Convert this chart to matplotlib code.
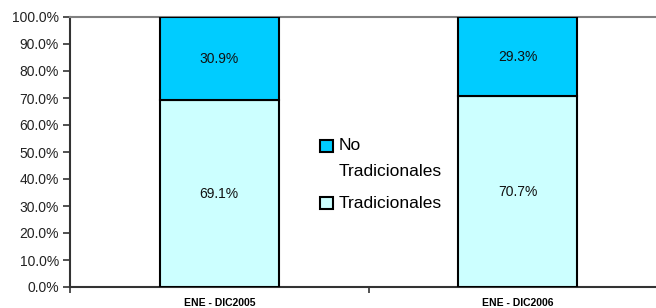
import matplotlib
matplotlib.use("Agg")
import matplotlib.pyplot as plt
from matplotlib.patches import Rectangle
from matplotlib.ticker import FixedLocator, PercentFormatter

plt.rcParams['font.family'] = ['Liberation Sans', 'DejaVu Sans']

categories = ["ENE - DIC2005", "ENE - DIC2006"]
tradicionales = [69.1, 70.7]
no_tradicionales = [30.9, 29.3]
series_names = ["No\nTradicionales", "Tradicionales"]
c_trad = "#CCFFFF"
c_no = "#00CCFF"

fig = plt.figure(figsize=(6.56, 3.08), dpi=100)
ax = fig.add_axes([70/656, 1-287/308, 597/656, 270/308])

x = list(range(len(categories)))
ax.bar(x, tradicionales, width=0.4, color=c_trad, edgecolor="black", linewidth=1.5, zorder=3)
ax.bar(x, no_tradicionales, width=0.4, bottom=tradicionales, color=c_no, edgecolor="black", linewidth=1.5, zorder=3)

for i in x:
    ax.text(i, tradicionales[i]/2, f"{tradicionales[i]:.1f}%", ha="center", va="center",
            fontsize=10, fontweight="medium", color="#111111", zorder=4)
    ax.text(i, tradicionales[i] + no_tradicionales[i]/2, f"{no_tradicionales[i]:.1f}%", ha="center", va="center",
            fontsize=10, fontweight="medium", color="#111111", zorder=4)

ax.set_xlim(-0.5, 1.5)
ax.set_ylim(0, 100)
ax.yaxis.set_major_locator(FixedLocator([i*10 for i in range(11)]))
ax.yaxis.set_major_formatter(PercentFormatter(decimals=1))
ax.tick_params(axis="y", labelsize=10, length=5, width=1.2, color="#333333", pad=3, labelcolor="#222222")
ax.set_xticks([-0.5, 0.5, 1.5])
ax.set_xticklabels([])
ax.set_xticks(x, minor=True)
ax.set_xticklabels(categories, minor=True, fontsize=7.5, fontweight="bold")
ax.tick_params(axis="x", which="major", length=4, width=1.2, color="#333333")
ax.tick_params(axis="x", which="minor", length=0, pad=8)

ax.spines["right"].set_visible(False)
ax.spines["top"].set_color("#808080")
ax.spines["top"].set_linewidth(1.5)
ax.spines["left"].set_color("#333333")
ax.spines["left"].set_linewidth(1.5)
ax.spines["bottom"].set_color("#333333")
ax.spines["bottom"].set_linewidth(1.5)

# legend drawn manually
W, H = 656, 308
entries = [(c_no, 146), (c_trad, 203)]
for col, yc in entries:
    fig.patches.append(Rectangle((320/W, 1-(yc+6)/H), 13/W, 12/H, transform=fig.transFigure,
                                 facecolor=col, edgecolor="black", linewidth=1.5))
fig.text(339/W, 1-146/H, "No", fontsize=12.5, va="center", ha="left")
fig.text(339/W, 1-172/H, "Tradicionales", fontsize=12.5, va="center", ha="left")
fig.text(339/W, 1-203/H, series_names[1], fontsize=12.5, va="center", ha="left")

fig.savefig("out.png", dpi=100)
